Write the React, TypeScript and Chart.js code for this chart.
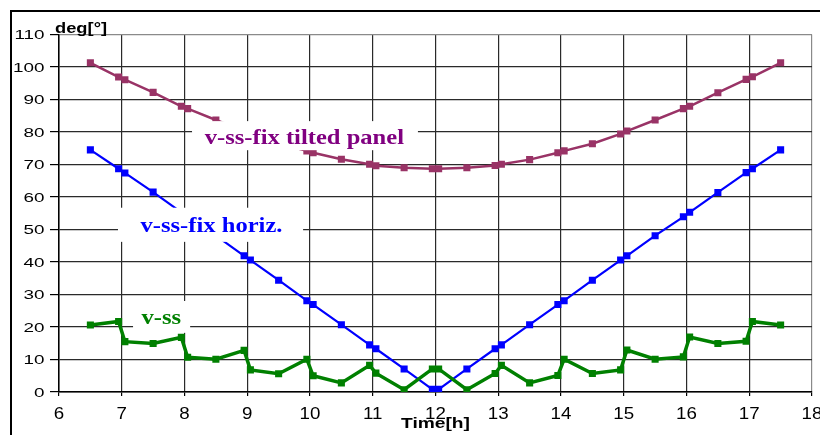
import React, { useEffect, useRef } from "react";
import { Chart, registerables } from "chart.js";

Chart.register(...registerables);

// ---- data ----
const TIMES = [6.5, 6.95, 7.05, 7.5, 7.95, 8.05, 8.5, 8.95, 9.05, 9.5, 9.95, 10.05, 10.5, 10.95, 11.05, 11.5, 11.95, 12.05, 12.5, 12.95, 13.05, 13.5, 13.95, 14.05, 14.5, 14.95, 15.05, 15.5, 15.95, 16.05, 16.5, 16.95, 17.05, 17.5];
const TILTED = [101.3, 96.9, 96.1, 92.2, 87.9, 87.2, 83.7, 80.3, 79.4, 76.4, 74.2, 73.6, 71.6, 70.1, 69.6, 69.0, 68.7, 68.7, 69.0, 69.7, 70.1, 71.5, 73.6, 74.2, 76.4, 79.4, 80.3, 83.7, 87.2, 87.9, 92.1, 96.2, 97.0, 101.3];
const HORIZ = [74.5, 68.7, 67.4, 61.5, 55.3, 53.9, 48.1, 41.9, 40.6, 34.4, 28.1, 26.9, 20.7, 14.5, 13.3, 7.1, 0.8, 0.8, 7.1, 13.3, 14.5, 20.7, 26.9, 28.1, 34.4, 40.6, 41.9, 48.1, 53.9, 55.3, 61.4, 67.5, 68.7, 74.5];
const VSS = [20.6, 21.7, 15.5, 14.9, 16.8, 10.7, 10.1, 12.8, 6.8, 5.6, 10.1, 5.0, 2.8, 8.2, 5.8, 0.7, 7.1, 7.1, 0.7, 5.7, 8.2, 2.8, 5.1, 10.1, 5.7, 6.8, 12.9, 10.1, 10.8, 16.9, 14.9, 15.6, 21.7, 20.6];

const SERIES_NAMES = ["v-ss", "v-ss-fix horiz.", "v-ss-fix tilted panel"];
const X_TITLE = "Time[h]";
const Y_TITLE = "deg[°]";
const X_MIN = 6, X_MAX = 18, X_STEP = 1;
const Y_MIN = 0, Y_MAX = 110, Y_STEP = 10;

// ---- styles ----
const LINE_COLORS = ["#008000", "#0000ff", "#993366"];
const TEXT_COLORS = ["#008000", "#0000ff", "#800080"];
const LINE_WIDTHS = [3.5, 2.2, 2.5];
// label boxes in data coordinates: [xFrom, xTo, yTop, yBottom], text center x, baseline y
const LABEL_BOX = [
  [7.18, 8.09, 28.0, 18.2],
  [6.94, 9.89, 56.7, 46.2],
  [8.12, 11.72, 83.35, 74.4],
];
const LABEL_TEXT_POS = [
  [7.63, 20.9],
  [8.43, 49.2],
  [9.91, 76.3],
];

function stretchText(ctx: CanvasRenderingContext2D, text: string, x: number, y: number, sx: number, align: CanvasTextAlign) {
  ctx.save();
  ctx.translate(x, y);
  ctx.scale(sx, 1);
  ctx.textAlign = align;
  ctx.textBaseline = "alphabetic";
  ctx.fillText(text, 0, 0);
  ctx.restore();
}

const annotPlugin = {
  id: "annot",
  afterDatasetsDraw(chart: any) {
    const ctx: CanvasRenderingContext2D = chart.ctx;
    const xs = chart.scales.x, ys = chart.scales.y;
    ctx.save();
    for (let i = 0; i < SERIES_NAMES.length; i++) {
      const b = LABEL_BOX[i];
      const x1 = xs.getPixelForValue(b[0]), x2 = xs.getPixelForValue(b[1]);
      const y1 = ys.getPixelForValue(b[2]), y2 = ys.getPixelForValue(b[3]);
      ctx.fillStyle = "#ffffff";
      ctx.fillRect(x1, y1, x2 - x1, y2 - y1);
      ctx.fillStyle = TEXT_COLORS[i];
      ctx.font = 'bold 21px "Liberation Serif", "Times New Roman", serif';
      const p = LABEL_TEXT_POS[i];
      stretchText(ctx, SERIES_NAMES[i], xs.getPixelForValue(p[0]), ys.getPixelForValue(p[1]), 1.17, "center");
    }
    ctx.restore();
  },
  afterDraw(chart: any) {
    const ctx: CanvasRenderingContext2D = chart.ctx;
    const xs = chart.scales.x, ys = chart.scales.y;
    const area = chart.chartArea;
    ctx.save();
    ctx.fillStyle = "#000";
    // y tick labels
    ctx.font = '13px "Liberation Sans", Arial, sans-serif';
    for (const t of ys.ticks) {
      stretchText(ctx, String(t.value), area.left - 14.5, ys.getPixelForValue(t.value) + 4.6, 1.45, "right");
    }
    // x tick labels
    ctx.font = '16px "Liberation Sans", Arial, sans-serif';
    for (const t of xs.ticks) {
      stretchText(ctx, String(t.value), xs.getPixelForValue(t.value), area.bottom + 27, 1.17, "center");
    }
    // axis titles
    ctx.font = 'bold 15px "Liberation Sans", Arial, sans-serif';
    stretchText(ctx, Y_TITLE, area.left - 4, area.top - 2, 1.22, "left");
    stretchText(ctx, X_TITLE, (area.left + area.right) / 2, area.bottom + 36.3, 1.28, "center");
    ctx.restore();
  },
};

export default function App() {
  const ref = useRef<HTMLCanvasElement | null>(null);
  useEffect(() => {
    if (!ref.current) return;
    const series = [VSS, HORIZ, TILTED];
    const chart = new Chart(ref.current, {
      type: "line",
      data: {
        datasets: series.map((vals, i) => ({
          label: SERIES_NAMES[i],
          data: TIMES.map((t, k) => ({ x: t, y: vals[k] })),
          borderColor: LINE_COLORS[i],
          backgroundColor: LINE_COLORS[i],
          pointBackgroundColor: LINE_COLORS[i],
          pointBorderWidth: 0,
          pointStyle: "rect",
          pointRadius: 5,
          borderWidth: LINE_WIDTHS[i],
          tension: 0,
          fill: false,
        })),
      },
      options: {
        animation: false,
        responsive: false,
        devicePixelRatio: 1,
        layout: { padding: { top: 34.5, right: 18, left: 0, bottom: 0 } },
        plugins: { legend: { display: false }, tooltip: { enabled: false } },
        scales: {
          x: {
            type: "linear",
            min: X_MIN,
            max: X_MAX,
            ticks: { stepSize: X_STEP, display: false },
            grid: {
              color: (c: any) => (c.tick && c.tick.value === X_MAX ? "#8a8a8a" : "#2a2a2a"),
              lineWidth: 1.2,
              tickLength: 4,
              tickColor: "#000",
            },
            border: { color: "#000", width: 1.5 },
            afterFit: (s: any) => { s.height = 43; },
          },
          y: {
            type: "linear",
            min: Y_MIN,
            max: Y_MAX,
            ticks: { stepSize: Y_STEP, display: false },
            grid: {
              color: (c: any) => (c.tick && c.tick.value === Y_MAX ? "#8a8a8a" : "#2a2a2a"),
              lineWidth: 1.2,
              tickLength: 9,
              tickColor: "#000",
            },
            border: { color: "#000", width: 1.5 },
            afterFit: (s: any) => { s.width = 59; },
          },
        },
      },
      plugins: [annotPlugin],
    } as any);
    return () => chart.destroy();
  }, []);

  return (
    <div style={{ position: "absolute", left: 0, top: 0, width: 820, height: 435, overflow: "hidden", background: "#fff" }}>
      <div style={{ position: "absolute", left: 10, top: 10, width: 900, height: 500, border: "2px solid #000" }} />
      <canvas ref={ref} width={830} height={435} style={{ position: "absolute", left: 0, top: 0, display: "block", width: 830, height: 435 }} />
    </div>
  );
}
